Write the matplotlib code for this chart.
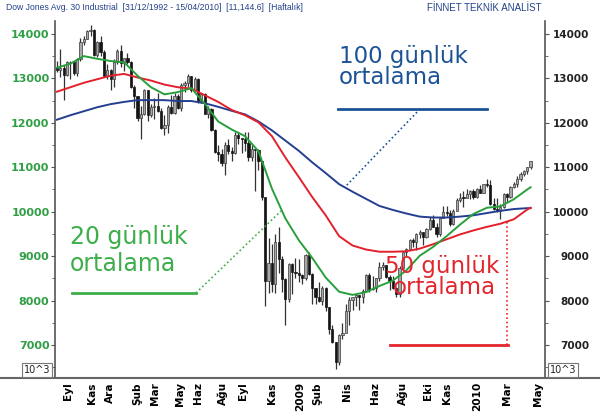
import matplotlib
matplotlib.use("Agg")
import matplotlib.pyplot as plt
from matplotlib.lines import Line2D
import pandas as pd

# weekly bars, 03/08/2007 .. 16/04/2010
weeks = pd.date_range("2007-08-03", periods=142, freq="W-FRI")
first_open = 13265

closes = [
    13182, 13239, 13079, 13379, 13358, 13113, 13442, 13821, 13896, 14066, 14093,
    13522, 13807, 13596, 13043, 13177, 12981, 13372, 13626, 13340, 13451, 13366,
    12800, 12606, 12099, 12207, 12743, 12183, 12348, 12381, 12266, 11894,
    11951, 12361, 12216, 12610, 12325, 12849, 12891, 13058, 12745, 12986,
    12480, 12638, 12209, 12308, 11843, 11347, 11288, 11100, 11496, 11371,
    11327, 11734, 11660, 11628, 11544, 11220, 11422, 11388, 11143, 10325,
    8451, 8852, 8378, 9325, 8943, 8497, 8046, 8829, 8635, 8629, 8579, 8515,
    9034, 8599, 8281, 8077, 8001, 8281, 7850, 7366, 7063, 6627,
    7224, 7279, 7776, 8018, 8083, 8131, 8076, 8212, 8575, 8268,
    8277, 8500, 8764, 8799, 8539, 8438, 8280, 8146, 8743, 9093,
    9172, 9370, 9321, 9505, 9544, 9441, 9605, 9820, 9665, 9488,
    9865, 9996, 9972, 9713, 10023, 10271, 10318, 10310, 10389, 10471, 10329, 10520,
    10428, 10618, 10610, 10173, 10067, 10012, 10099, 10402, 10325, 10566,
    10625, 10742, 10851, 10927, 10997, 11145,
]
highs = [
    13400, 13660, 13300, 13400, 13400, 13400, 13460, 13900, 13950, 14090, 14198,
    14110, 13850, 13950, 13640, 13330, 13200, 13430, 13650, 13760, 13460, 13560,
    13380, 12860, 12610, 12380, 12770, 12740, 12420, 12560, 12680, 12340,
    12180, 12410, 12620, 12680, 12650, 12890, 12950, 13100, 13060, 13030,
    13000, 12670, 12680, 12380, 12330, 11860, 11500, 11400, 11560, 11640,
    11450, 11800, 11800, 11660, 11790, 11790, 11510, 11420, 11400, 11150,
    10330, 9400, 9270, 9500, 9650, 9010, 8510, 8850, 8840, 8950, 8930, 8600,
    9050, 9090, 8630, 8290, 8420, 8340, 8300, 7860, 7460, 7080,
    7260, 7490, 7920, 8080, 8090, 8150, 8130, 8260, 8600, 8620,
    8550, 8520, 8880, 8880, 8800, 8570, 8560, 8300, 8770, 9100,
    9190, 9380, 9400, 9520, 9600, 9550, 9630, 9880, 9920, 9740,
    9880, 10120, 10120, 10040, 10060, 10300, 10410, 10470, 10520, 10480, 10520, 10530,
    10590, 10630, 10730, 10720, 10300, 10300, 10170, 10430, 10410, 10570,
    10660, 10800, 10900, 10940, 11010, 11150,
]
lows = [
    13150, 13040, 12518, 13050, 12990, 13080, 13050, 13400, 13760, 13880, 13950,
    13510, 13470, 13500, 13030, 12980, 12740, 12810, 13320, 13250, 13160, 13330,
    12790, 12330, 12050, 11630, 12170, 12050, 12140, 12080, 12250, 11850,
    11730, 11780, 12190, 12200, 12300, 12270, 12700, 12800, 12700, 12730,
    12450, 12450, 12190, 12100, 11820, 11330, 11150, 11020, 10830, 11300,
    11130, 11290, 11530, 11330, 11370, 11140, 11140, 10460, 10940, 10270,
    7880, 8180, 8200, 8170, 8620, 8200, 7450, 7970, 8150, 8500, 8420, 8370,
    8460, 8580, 7930, 7920, 7970, 7900, 7770, 7250, 7050, 6470,
    6550, 7140, 7300, 7450, 7800, 7870, 7800, 7950, 8200, 8200,
    8240, 8200, 8450, 8690, 8500, 8240, 8270, 8090, 8080, 8700,
    9000, 9170, 9210, 9130, 9420, 9250, 9400, 9590, 9650, 9430,
    9450, 9850, 9900, 9680, 9710, 10030, 10230, 10100, 10300, 10290, 10290, 10310,
    10420, 10410, 10550, 10150, 10050, 9990, 9840, 10090, 10230, 10300,
    10540, 10560, 10700, 10810, 10850, 10960,
]

# moving averages, every 4th week (+ last week)
ma_idx = list(range(0, 141, 4)) + [141]
ma20 = [13240, 13330, 13500, 13440, 13390, 13360, 13060, 12800, 12640, 12690,
        12780, 12430, 12030, 11850, 11700, 11360, 10520, 9850, 9360, 8960,
        8520, 8200, 8130, 8190, 8330, 8450, 8680, 9010, 9210, 9450,
        9710, 9950, 10090, 10120, 10280, 10500, 10550]
ma50 = [12700, 12800, 12900, 12980, 13060, 13100, 13020, 12950, 12860, 12800,
        12770, 12620, 12470, 12290, 12170, 12010, 11700, 11220, 10780, 10330,
        9920, 9450, 9240, 9150, 9100, 9100, 9110, 9170, 9270, 9380,
        9490, 9580, 9660, 9730, 9830, 10050, 10090]
ma100 = [12070, 12170, 12260, 12350, 12420, 12470, 12510, 12510, 12510, 12490,
         12490, 12440, 12360, 12270, 12190, 12030, 11830, 11600, 11370, 11110,
         10870, 10620, 10450, 10290, 10130, 10040, 9960, 9890, 9870, 9870,
         9890, 9920, 9970, 10020, 10060, 10080, 10080]

tick_dates = ["2007-08-26", "2007-10-15", "2007-11-21", "2008-01-17", "2008-02-23",
              "2008-04-15", "2008-05-23", "2008-07-14", "2008-08-25", "2008-10-24",
              "2008-12-22", "2009-01-26", "2009-03-30", "2009-05-27", "2009-07-24",
              "2009-09-15", "2009-10-24", "2009-12-26", "2010-02-26", "2010-05-02"]
tick_labels = ["Eyl", "Kas", "Ara", "Şub", "Mar", "May", "Haz", "Ağu", "Eyl", "Kas",
               "2009", "Şub", "Nis", "Haz", "Ağu", "Eki", "Kas", "2010", "Mar", "May"]

W, H = 600, 418
GREEN, RED, BLUE = "#27a03c", "#e3202b", "#243f91"


def px(x, y):
    return x / W, 1 - y / H


fig = plt.figure(figsize=(6, 4.18), dpi=100)
ax = fig.add_axes([55 / W, 1 - 378 / H, 490 / W, 357 / H])

opens = [first_open] + closes[:-1]
ax.vlines(weeks, lows, highs, color="#333333", lw=0.9, zorder=2)
up = [c >= o for o, c in zip(opens, closes)]
bottoms = [min(o, c) for o, c in zip(opens, closes)]
heights = [max(abs(c - o), 15) for o, c in zip(opens, closes)]
ax.bar(weeks, heights, bottom=bottoms, width=4.6,
       color=["#a8a8a8" if u else "#151515" for u in up],
       edgecolor=["#3a3a3a" if u else "#151515" for u in up], lw=0.5, zorder=2)

ax.plot(weeks[ma_idx], ma100, color=BLUE, lw=1.4, zorder=3)
ax.plot(weeks[ma_idx], ma50, color=RED, lw=1.4, zorder=3)
ax.plot(weeks[ma_idx], ma20, color=GREEN, lw=1.4, zorder=3)

ax.set_xlim(pd.Timestamp("2007-07-30"), pd.Timestamp("2010-05-16"))
ax.set_ylim(6260, 14290)
ax.set_xticks(pd.to_datetime(tick_dates))
ax.set_xticklabels(tick_labels, rotation=90, fontsize=7.6, fontweight="bold")
ax.tick_params(axis="x", length=0, pad=3)

yt = list(range(7000, 14001, 1000))
ax.set_yticks(yt)
ax.set_yticks(list(range(6500, 14500, 1000)), minor=True)
ax.set_yticklabels([str(v) for v in yt], fontsize=8, fontweight="bold", color="#2f9e44")
ax.tick_params(axis="y", which="major", length=3, pad=1, color="#555555")
ax.tick_params(axis="y", which="minor", length=2, color="#555555")

ax2 = ax.twinx()
ax2.set_ylim(ax.get_ylim())
ax2.set_yticks(yt)
ax2.set_yticks(list(range(6500, 14500, 1000)), minor=True)
ax2.set_yticklabels([str(v) for v in yt], fontsize=7.5, fontweight="bold", color="#222222")
ax2.tick_params(axis="y", which="major", length=3, pad=29, color="#555555")
ax2.tick_params(axis="y", which="minor", length=2, color="#555555")
for lbl in ax2.get_yticklabels():
    lbl.set_horizontalalignment("right")

for a in (ax, ax2):
    for s in ("top", "bottom"):
        a.spines[s].set_visible(False)
ax.spines["right"].set_visible(False)
ax2.spines["left"].set_visible(False)
ax.spines["left"].set_color("#555555")
ax2.spines["right"].set_color("#555555")
ax.spines["left"].set_linewidth(1.2)
ax2.spines["right"].set_linewidth(1.2)

# bottom rule across the full width
fig.add_artist(Line2D([0, 1], [1 - 378 / H] * 2, color="#666666", lw=1.5))

# header
fig.text(*px(6, 8), "Dow Jones Avg. 30 Industrial  [31/12/1992 - 15/04/2010]  [11,144.6]  [Haftalık]",
         fontsize=6.2, color="#23428a", va="center", ha="left", family="Liberation Sans")
fig.text(*px(427, 8), "FİNNET TEKNİK ANALİST", fontsize=7, color="#23428a",
         va="center", ha="left", family="Liberation Sans")

for xc in (37, 563):
    fig.text(*px(xc, 370), "10^3", fontsize=7, ha="center", va="center", color="#222222",
             bbox=dict(boxstyle="square,pad=0.2", fc="white", ec="#777777", lw=0.8))


def hline(x0, x1, y, color, lw=2.0, ls="-"):
    fig.add_artist(Line2D([x0 / W, x1 / W], [1 - y / H] * 2, color=color, lw=lw, ls=ls))


def seg(x0, y0, x1, y1, color):
    fig.add_artist(Line2D([x0 / W, x1 / W], [1 - y0 / H, 1 - y1 / H], color=color,
                          lw=1.2, ls=(0, (1, 1.6)), zorder=4))


# 100 gunluk
fig.text(*px(339, 63), "100 günlük", fontsize=16.5, color="#1b5496", va="baseline", zorder=5)
fig.text(*px(339, 84), "ortalama", fontsize=16.5, color="#1b5496", va="baseline", zorder=5)
hline(338, 487, 109, "#1b5496")
seg(420, 109, 345, 187, "#1b5496")

# 20 gunluk
fig.text(*px(70, 244), "20 günlük", fontsize=17, color="#3cae4a", va="baseline", zorder=5)
fig.text(*px(70, 271), "ortalama", fontsize=17, color="#3cae4a", va="baseline", zorder=5)
hline(72, 196, 293, "#3cae4a")
seg(196, 293, 281, 211, "#3cae4a")

# 50 gunluk
fig.text(*px(385, 273), "50 günlük", fontsize=16.5, color="#e3262d", va="baseline", zorder=5)
fig.text(*px(393, 294), "ortalama", fontsize=16.5, color="#e3262d", va="baseline", zorder=5)
hline(390, 508, 345, "#e3262d")
fig.add_artist(Line2D([507 / W] * 2, [1 - 345 / H, 1 - 220 / H], color="#e3262d",
                      lw=1.2, ls=(0, (1, 1.6)), zorder=4))

fig.savefig("out.png", dpi=100)
